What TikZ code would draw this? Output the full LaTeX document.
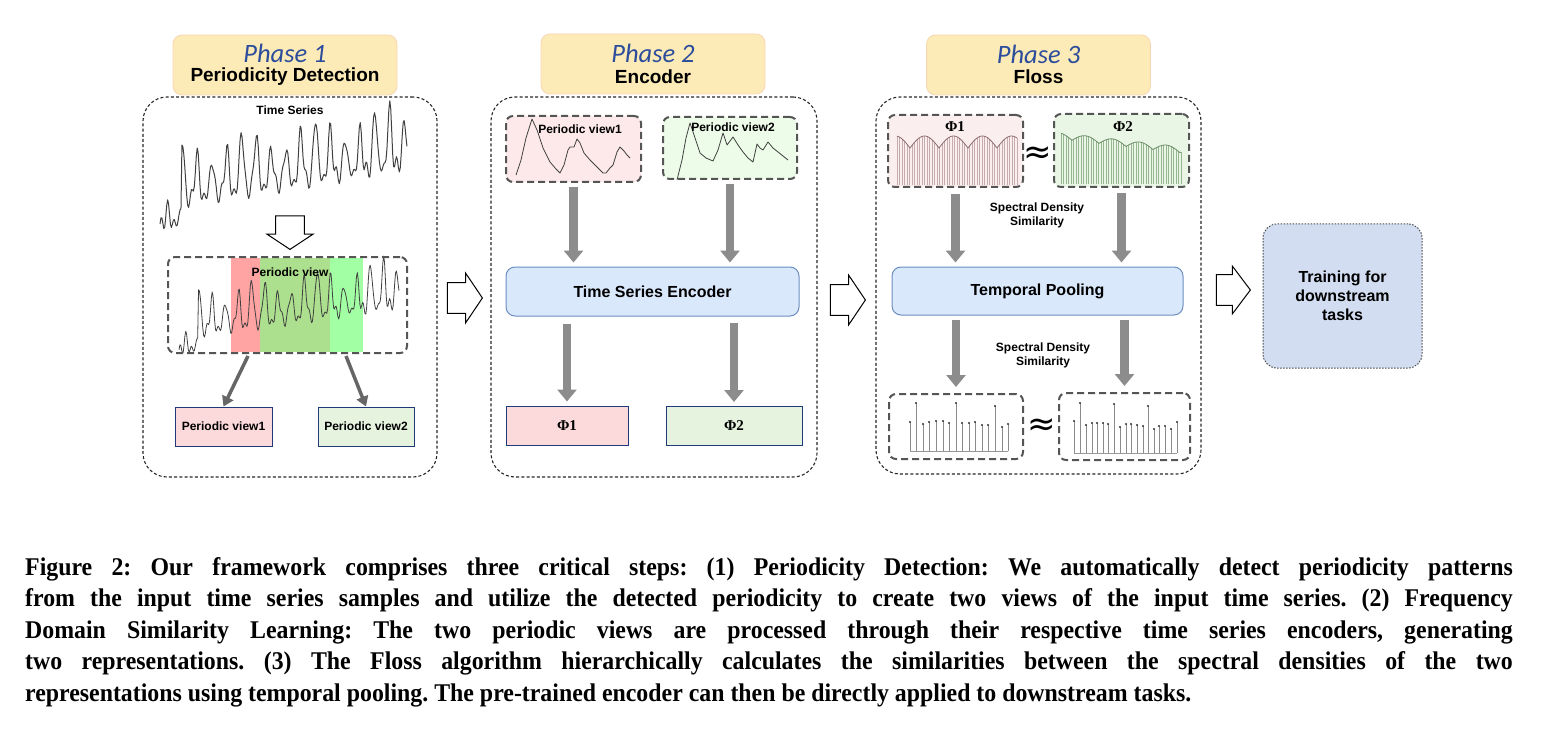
\documentclass[tikz,border=0pt]{standalone}
\usepackage{fontspec}
\setmainfont{Liberation Serif}
\setsansfont{Liberation Sans}
\newfontfamily\phasefont{Carlito}
\newfontfamily\symfont{DejaVu Sans}
\usetikzlibrary{arrows.meta,shapes.arrows}

\definecolor{headfill}{RGB}{253,235,183}
\definecolor{headline}{RGB}{248,214,180}
\definecolor{phaseblue}{RGB}{44,76,156}
\definecolor{encfill}{RGB}{218,232,252}
\definecolor{encline}{RGB}{108,142,191}
\definecolor{boxblue}{RGB}{31,58,122}
\definecolor{redfill}{RGB}{252,217,218}
\definecolor{greenfill}{RGB}{229,243,223}
\definecolor{pinkview}{RGB}{253,233,233}
\definecolor{greenview}{RGB}{236,252,232}
\definecolor{pinkspec}{RGB}{251,238,238}
\definecolor{greenspec}{RGB}{233,246,229}
\definecolor{bandred}{RGB}{255,163,163}
\definecolor{bandmix}{RGB}{172,223,142}
\definecolor{bandgreen}{RGB}{163,255,163}
\definecolor{trainfill}{RGB}{211,221,241}
\definecolor{arrowgray}{RGB}{140,140,140}
\definecolor{dashgray}{RGB}{85,85,85}

\newcommand{\lblfont}{\sffamily\bfseries\fontsize{12}{14}\selectfont}
\newcommand{\blkfont}{\sffamily\bfseries\fontsize{16}{19}\selectfont}
\newcommand{\phifont}{\rmfamily\bfseries\fontsize{15}{17}\selectfont}
\newcommand{\capbox}[1]{\scalebox{0.935}[1]{\makebox[1591pt][s]{#1}}}

\tikzset{
  panel/.style={draw=black!85, line width=1.1pt, dash pattern=on 3pt off 2.2pt, rounded corners=24pt},
  headbox/.style={draw=headline, fill=headfill, line width=0.8pt, rounded corners=9pt, minimum width=224pt, minimum height=60pt},
  phasetxt/.style={font=\phasefont\itshape\fontsize{26.5}{28}\selectfont, text=phaseblue, inner sep=0pt},
  titletxt/.style={font=\sffamily\bfseries\fontsize{19}{21}\selectfont, inner sep=0pt},
  label/.style={font=\lblfont, inner sep=0pt, align=center},
  viewbox/.style={draw=boxblue, line width=1pt, font=\lblfont, minimum height=39pt},
  phibox/.style={draw=boxblue, line width=1pt, font=\phifont, minimum height=39pt},
  dashbox/.style={draw=dashgray, line width=2pt, dash pattern=on 7pt off 4pt, rounded corners=7pt},
  blockbox/.style={draw=encline, fill=encfill, line width=1pt, rounded corners=9pt, font=\blkfont},
  fatarrow/.style={draw=arrowgray, line width=8.5pt, -{Triangle[width=19pt,length=12pt]}, shorten <=4pt, shorten >=4pt},
  thinarrow/.style={draw=black!60, line width=3.5pt, -{Triangle[width=12pt,length=10pt]}},
  hollow/.style={single arrow, draw=black, fill=white, line width=1pt, inner xsep=0pt, inner ysep=11pt, minimum height=35pt, minimum width=50pt, single arrow tip angle=112, anchor=tip},
  tsline/.style={draw=black!75, line width=1pt, line join=round},
  approx/.style={font=\symfont\fontsize{34}{34}\selectfont, inner sep=0pt},
  capline/.style={font=\bfseries\fontsize{25.5}{30}\selectfont\frenchspacing, inner sep=0pt, anchor=base west}
}

\begin{document}
\begin{tikzpicture}[x=1pt,y=1pt,yscale=-1,xscale=1,
  declare function={p5(\u)=\u*\u*\u*\u*\u;
    tsv(\t)=5+40*\t+22*(\t>0.085)+(0.3+0.7*(\t>0.085))*(0.78+0.22*sin(1300*\t))*62*p5(abs(sin(3000*\t)))+6*sin(14760*\t)+3*sin(11700*\t+40);
    env1(\u)=136+12*(1-abs(sin((\u-910)*6.2069)));
    env2(\u)=133+(\u-1061)*0.1148+6*(1-abs(sin((\u-1072)*6.6667)));}]
\path[use as bounding box] (0,0) rectangle (1550,746);

%Shape: Panels
\node[panel, minimum width=294pt, minimum height=380pt] (pan1) at (290,287) {};
\node[panel, minimum width=326pt, minimum height=380pt] (pan2) at (654,287) {};
\node[panel, minimum width=325pt, minimum height=377pt] (pan3) at (1038.5,285.5) {};

%Shape: Headers
\node[headbox] (hd1) at (285,65) {};
\node[headbox] (hd2) at (653,64) {};
\node[headbox] (hd3) at (1038.5,65) {};
% Text Node
\node[phasetxt] (ph1) at (285,53) {Phase 1};
\node[titletxt] (ttl1) at (285,77) {Periodicity Detection};
\node[phasetxt] (ph2) at (653,53) {Phase 2};
\node[titletxt] (ttl2) at (653,77) {Encoder};
\node[phasetxt] (ph3) at (1038.5,54) {Phase 3};
\node[titletxt] (ttl3) at (1038.5,77) {Floss};

%%% Phase 1
\node[label] (tslbl) at (290,110) {Time Series};
\draw[tsline] plot[domain=0:1, samples=260] ({160+247*\x},{231-tsv(\x)});
\node[hollow, shape border rotate=270, inner sep=11.5pt, minimum width=46pt, minimum height=33pt, single arrow tip angle=113] (hdown) at (290,250) {};

%Shape: Bands
\fill[bandred] (231,258) rectangle (260,352);
\fill[bandmix] (260,258) rectangle (330,352);
\fill[bandgreen] (330,258) rectangle (363,352);
\draw[tsline, line width=0.8pt] plot[domain=0:1, samples=260] ({179+220*\x},{355-0.76*tsv(\x)});
\node[dashbox, minimum width=239pt, minimum height=96pt] (pvbox) at (287.5,305) {};
\node[label] (pvlbl) at (290,272) {Periodic view};

\node[viewbox, fill=redfill, minimum width=97pt] (v1) at (223.5,426.5) {Periodic view1};
\node[viewbox, fill=greenfill, minimum width=96pt] (v2) at (366,426.5) {Periodic view2};
\coordinate (cutL) at (248,356);
\coordinate (cutR) at (346,356);
\draw[thinarrow] (cutL) -- (v1.north);
\draw[thinarrow] (cutR) -- (v2.north);

\node[hollow] (h12) at (483,298) {};

%%% Phase 2
\node[dashbox, fill=pinkview, minimum width=135pt, minimum height=66pt] (p2v1) at (573.5,149) {};
\node[dashbox, fill=greenview, minimum width=134pt, minimum height=62pt] (p2v2) at (730,148) {};
\draw[tsline, line width=0.8pt] plot coordinates {(516,175) (521,160) (526,138) (532,119) (537,130) (543,148) (550,162) (556,169) (560,173) (564,165) (568,150) (570,147) (574,147) (577,139) (580,143) (584,153) (590,160) (597,167) (603,173) (606,173) (610,168) (613,165) (617,152) (620,147) (624,151) (627,155) (630,158)};
\draw[tsline, line width=0.8pt] plot coordinates {(677,180) (682,160) (686,138) (690,123) (694,135) (700,153) (706,158) (713,161) (718,150) (723,133) (727,145) (733,137) (738,145) (743,152) (748,158) (753,162) (757,144) (760,148) (763,150) (768,142) (773,148) (778,152) (783,156) (788,160)};
\node[label] (p2l1) at (580,129) {Periodic view1};
\node[label] (p2l2) at (733,127) {Periodic view2};

\node[blockbox, minimum width=293pt, minimum height=49pt] (enc) at (652.5,291.5) {Time Series Encoder};
\node[phibox, fill=redfill, minimum width=122pt] (phi1) at (567,425.5) {Φ1};
\node[phibox, fill=greenfill, minimum width=136pt] (phi2) at (734,426) {Φ2};

\draw[fatarrow] (p2v1.south) -- (p2v1.south |- enc.north);
\draw[fatarrow] (p2v2.south) -- (p2v2.south |- enc.north);
\draw[fatarrow, shorten <=7pt] (enc.south -| phi1.north) -- (phi1.north);
\draw[fatarrow, shorten <=6pt] (enc.south -| phi2.north) -- (phi2.north);

\node[hollow] (h23) at (866,300) {};

%%% Phase 3
\node[dashbox, fill=pinkspec, minimum width=135pt, minimum height=72pt] (sp1) at (955.5,151) {};
\node[dashbox, fill=greenspec, minimum width=135pt, minimum height=73pt] (sp2) at (1121.5,150.5) {};
\foreach \i in {0,...,48}{
  \pgfmathsetmacro\bx{897+2.5*\i}
  \pgfmathsetmacro\by{env1(\bx)}
  \draw[draw={rgb,255:red,200;green,172;blue,172}, line width=0.6pt] (\bx,185) -- (\bx,\by);
  \pgfmathsetmacro\cx{1061+2.5*\i}
  \pgfmathsetmacro\cy{env2(\cx)}
  \draw[draw={rgb,255:red,150;green,182;blue,146}, line width=0.6pt] (\cx,184) -- (\cx,\cy);
}
\draw[draw={rgb,255:red,140;green,110;blue,110}, line width=0.8pt] plot[domain=897:1017, samples=121] (\x,{env1(\x)});
\draw[draw={rgb,255:red,110;green,142;blue,106}, line width=0.8pt] plot[domain=1061:1181, samples=121] (\x,{env2(\x)});
\node[font=\phifont, inner sep=0pt] (sp1l) at (955,127) {Φ1};
\node[font=\phifont, inner sep=0pt] (sp2l) at (1123,127) {Φ2};
\node[approx] (ap1) at (1038,155) {≈};

\node[label] (sds1) at (1037,215) {Spectral Density\\Similarity};
\node[blockbox, minimum width=291pt, minimum height=48pt] (pool) at (1037.5,291) {Temporal Pooling};
\node[label] (sds2) at (1043,355) {Spectral Density\\Similarity};

\node[dashbox, minimum width=134pt, minimum height=65pt] (st1) at (956,426.5) {};
\node[dashbox, minimum width=131pt, minimum height=67pt] (st2) at (1124.5,426.5) {};
\draw[black!40, line width=0.8pt] (910,451) -- (1008,451);
\foreach \sx/\sy in {910/422, 916/403, 923/424, 929/422, 936/421, 943/421, 949/423, 956/403, 962/423, 969/423, 975/422, 982/425, 988/425, 995/406, 1002/427, 1008/424}{
  \draw[black!45, line width=0.8pt] (\sx,451) -- (\sx,\sy);
  \fill[black!80] (\sx,\sy) circle (1.1pt);
}
\draw[black!40, line width=0.8pt] (1074,453) -- (1177,453);
\foreach \sx/\sy in {1074/421, 1080/403, 1086/425, 1092/423, 1097/423, 1103/423, 1108/424, 1114/404, 1120/427, 1126/424, 1131/424, 1137/425, 1143/426, 1148/406, 1154/429, 1159/426, 1165/426, 1171/429, 1177/422}{
  \draw[black!45, line width=0.8pt] (\sx,453) -- (\sx,\sy);
  \fill[black!80] (\sx,\sy) circle (1.1pt);
}
\node[approx] (ap2) at (1042,427) {≈};

\draw[fatarrow, shorten <=6pt] (sp1.south) -- (sp1.south |- pool.north);
\draw[fatarrow, shorten <=5pt] (sp2.south) -- (sp2.south |- pool.north);
\draw[fatarrow, shorten >=6pt] (pool.south -| st1.north) -- (st1.north);
\draw[fatarrow, shorten >=6pt] (pool.south -| st2.north) -- (st2.north);

%%% Output
\node[hollow, inner ysep=12pt, minimum width=48pt, minimum height=34pt, single arrow tip angle=106] (h3t) at (1251,290) {};
\node[draw=black!70, fill=trainfill, line width=1pt, dash pattern=on 1.5pt off 1.5pt, rounded corners=14pt, minimum width=159pt, minimum height=144pt, align=center, font=\blkfont] (train) at (1342.5,296) {Training for\\downstream\\tasks};

%%% Caption
\node[capline] (cap1) at (25,575) {\capbox{Figure 2: Our framework comprises three critical steps: (1) Periodicity Detection: We automatically detect periodicity patterns}};
\node[capline] (cap2) at (25,606.5) {\capbox{from the input time series samples and utilize the detected periodicity to create two views of the input time series. (2) Frequency}};
\node[capline] (cap3) at (25,638) {\capbox{Domain Similarity Learning: The two periodic views are processed through their respective time series encoders, generating}};
\node[capline] (cap4) at (25,669.5) {\capbox{two representations. (3) The Floss algorithm hierarchically calculates the similarities between the spectral densities of the two}};
\node[capline] (cap5) at (25,701) {\scalebox{0.935}[1]{representations using temporal pooling. The pre-trained encoder can then be directly applied to downstream tasks.}};

\end{tikzpicture}
\end{document}
